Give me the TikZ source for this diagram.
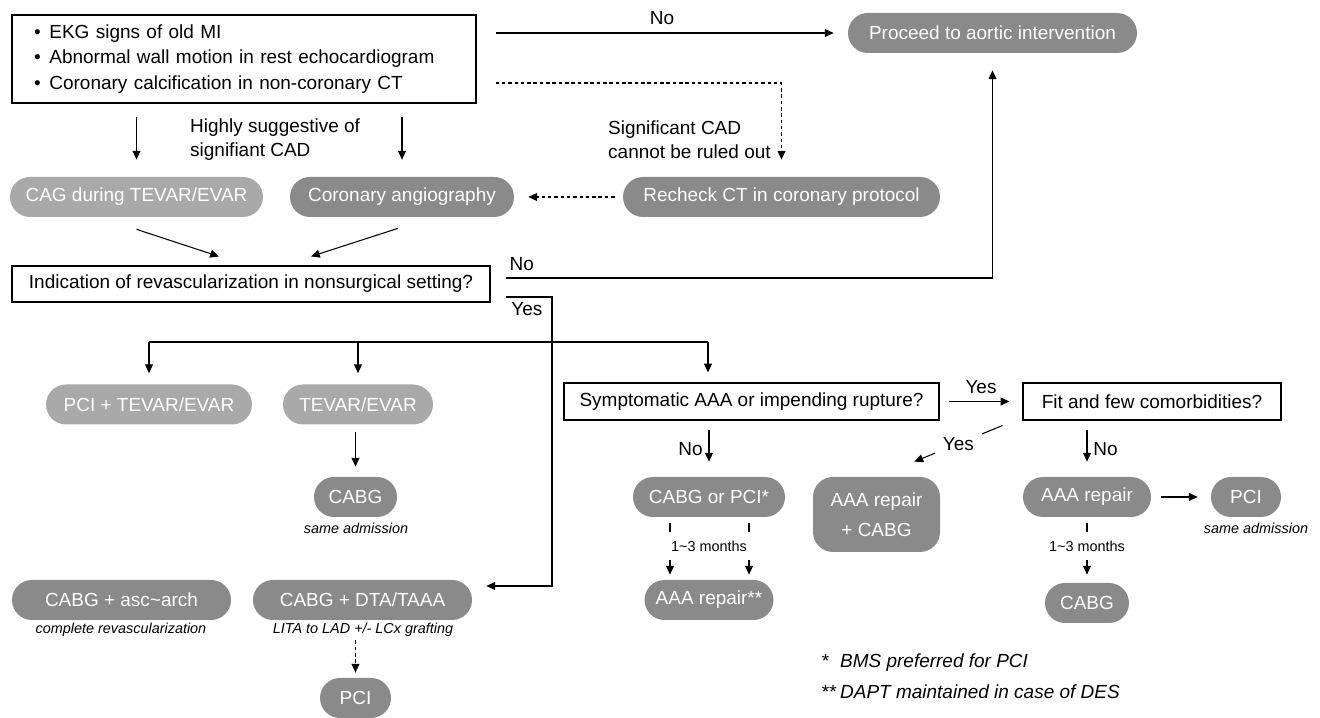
\documentclass[tikz,border=0pt]{standalone}
\usepackage{fontspec}
\setmainfont{Liberation Sans}
\usetikzlibrary{arrows.meta}
\definecolor{darkpill}{HTML}{8A8A8A}
\definecolor{lightpill}{HTML}{A9A9A9}
\tikzset{pill/.style={fill=darkpill,text=white,rounded corners=0.4cm,minimum height=0.8cm,inner sep=0pt},
  lightpill/.style={pill,fill=lightpill},
  qbox/.style={draw,line width=0.6pt,minimum height=0.74cm,inner sep=0pt},
  arr/.style={line width=0.6pt,-{Triangle[length=5pt,width=4.5pt]}},
  darr/.style={arr,dash pattern=on 2pt off 1.6pt},
  note/.style={font=\fontsize{8.2}{10}\selectfont\itshape},
  months/.style={font=\fontsize{8.2}{10}\selectfont,fill=white,inner xsep=2pt,inner ysep=0.17cm}}

\begin{document}
\begin{tikzpicture}[font=\fontsize{10.8}{13}\selectfont]
                \useasboundingbox (0,0) rectangle (26.4,-14.36);
                % first findings and the aortic branch
                \node[qbox,text width=8.4cm,inner xsep=0.44cm,minimum height=1.76cm,align=left,
                    font=\fontsize{10.8}{14.7}\selectfont] (risk) at (4.88,-1.18)
                    {\textbullet\hspace{5pt}EKG signs of old MI\\
                     \textbullet\hspace{5pt}Abnormal wall motion in rest echocardiogram\\
                     \textbullet\hspace{5pt}Coronary calcification in non-coronary CT};
                \node[pill,minimum width=5.78cm] (proceed) at (19.85,-0.66) {Proceed to aortic intervention};
                \node[lightpill,minimum width=5.06cm] (cag) at (2.73,-3.94) {CAG during TEVAR/EVAR};
                \node[pill,minimum width=4.48cm] (cor) at (8.04,-3.94) {Coronary angiography};
                \node[pill,minimum width=6.34cm] (recheck) at (15.63,-3.94) {Recheck CT in coronary protocol};
                \node[qbox,minimum width=9.56cm,minimum height=0.72cm] (ind) at (5.02,-5.68)
                    {Indication of revascularization in nonsurgical setting?};
                \node[anchor=west,align=left,font=\fontsize{10.8}{13.6}\selectfont] (sugg) at (3.68,-2.8)
                    {Highly suggestive of\\signifiant CAD};
                \node[anchor=west,align=left,font=\fontsize{10.8}{13.6}\selectfont] (notout) at (12.04,-2.8)
                    {Significant CAD\\cannot be ruled out};
                % treatment nodes
                \node[lightpill,minimum width=4.12cm] (pcitevar) at (2.98,-8.09) {PCI + TEVAR/EVAR};
                \node[lightpill,minimum width=3.0cm] (tevar) at (7.16,-8.09) {TEVAR/EVAR};
                \node[pill,minimum width=1.66cm] (cabga) at (7.11,-9.94) {CABG};
                \node[note] (cabganote) at (7.12,-10.56) {same admission};
                \node[pill,minimum width=4.38cm] (cabgasc) at (2.43,-12.0) {CABG + asc\textasciitilde arch};
                \node[note] (ascnote) at (2.42,-12.6) {complete revascularization};
                \node[pill,minimum width=4.38cm] (cabgdta) at (7.25,-12.0) {CABG + DTA/TAAA};
                \node[note] (dtanote) at (7.26,-12.6) {LITA to LAD +/- LCx grafting};
                \node[pill,minimum width=1.42cm] (pcib) at (7.11,-13.96) {PCI};
                \node[qbox,minimum width=7.5cm] (symp) at (15.03,-8.03) {Symptomatic AAA or impending rupture?};
                \node[qbox,minimum width=5.16cm] (fit) at (23.04,-8.03) {Fit and few comorbidities?};
                \node[pill,minimum width=3.04cm] (cabgpci) at (14.18,-9.94) {CABG or PCI*};
                \node[pill,minimum width=2.58cm] (aaaa) at (14.18,-12.0) {AAA repair**};
                \node[pill,minimum width=2.54cm,minimum height=1.5cm,align=center,
                    font=\fontsize{10.8}{17}\selectfont] (aaacabg) at (17.53,-10.29) {AAA repair\\+ CABG};
                \node[pill,minimum width=2.56cm] (aaar) at (21.74,-9.94) {AAA repair};
                \node[pill,minimum width=1.4cm] (pcir) at (24.92,-9.94) {PCI};
                \node[note] (pcirnote) at (25.12,-10.56) {same admission};
                \node[pill,minimum width=1.68cm] (cabgr) at (21.74,-12.06) {CABG};
                \node[anchor=west,font=\fontsize{10.8}{13}\selectfont\itshape] (fnone) at (16.3,-13.26)
                    {\makebox[0.38cm][l]{*}BMS preferred for PCI};
                \node[anchor=west,font=\fontsize{10.8}{13}\selectfont\itshape] (fntwo) at (16.3,-13.84)
                    {\makebox[0.38cm][l]{**}DAPT maintained in case of DES};
                % connectors
                \coordinate (ybend) at (11.04,-11.72);
                \coordinate (busl) at (2.98,-6.84);
                \coordinate (busr) at (14.16,-6.84);
                \draw[arr,shorten <=0.38cm,shorten >=0.28cm] (risk.east |- proceed.west) -- node[above=1pt]{No} (proceed.west);
                \draw[darr,shorten <=0.38cm,shorten >=0.34cm] ([yshift=-0.48cm]risk.east) -| (recheck.north);
                \draw[arr,shorten <=0.26cm,shorten >=0.34cm] (risk.south -| cag.north) -- (cag.north);
                \draw[arr,shorten <=0.26cm,shorten >=0.34cm] (risk.south -| cor.north) -- (cor.north);
                \draw[darr,shorten <=0.16cm,shorten >=0.28cm] (recheck.west) -- (cor.east);
                \draw[arr] ([yshift=-0.24cm]cag.south) -- ([xshift=-0.64cm,yshift=0.18cm]ind.north);
                \draw[arr] ([xshift=-0.08cm,yshift=-0.22cm]cor.south) -- ([xshift=1.2cm,yshift=0.18cm]ind.north);
                \draw[arr] ([xshift=0.3cm,yshift=0.12cm]ind.east) node[anchor=south west,inner xsep=2pt,inner ysep=4pt]{No}
                    -| ([yshift=-0.34cm]proceed.south);
                \draw[arr] ([xshift=0.3cm,yshift=-0.26cm]ind.east) node[anchor=north west,inner sep=3pt]{Yes}
                    -| (ybend) -- ([xshift=0.28cm,yshift=0.28cm]cabgdta.east);
                \draw[line width=0.6pt] (busl) -- (busr);
                \draw[arr,shorten >=0.22cm] (busl) -- (pcitevar.north);
                \draw[arr,shorten >=0.22cm] (busl -| tevar.north) -- (tevar.north);
                \draw[arr,shorten >=0.2cm] (busr) -- (busr |- symp.north);
                \draw[arr,shorten <=0.14cm,shorten >=0.2cm] (tevar.south -| cabga.north) -- (cabga.north);
                \draw[darr,shorten <=0.4cm,shorten >=0.1cm] (cabgdta.south -| pcib.north) -- (pcib.north);
                \draw[arr,shorten <=0.18cm,shorten >=0.26cm] (symp.east) -- node[above=1pt]{Yes} (fit.west);
                \draw[arr,shorten <=0.18cm,shorten >=0.3cm] (symp.south -| cabgpci.north) -- node[left]{No} (cabgpci.north);
                \draw[arr,shorten <=0.18cm,shorten >=0.3cm] (fit.south -| aaar.north) -- node[right]{No} (aaar.north);
                \draw[arr] ([xshift=-0.4cm,yshift=-0.1cm]fit.south west)
                    -- node[fill=white,inner xsep=4.5pt,inner ysep=3pt]{Yes} ([xshift=-0.52cm,yshift=0.3cm]aaacabg.north east);
                \draw[arr,shorten <=0.2cm,shorten >=0.26cm] (aaar.east) -- (pcir.west);
                \draw[arr] ([xshift=-0.78cm,yshift=-0.12cm]cabgpci.south) -- ([xshift=-0.78cm,yshift=0.1cm]aaaa.north);
                \draw[arr] ([xshift=0.8cm,yshift=-0.12cm]cabgpci.south) -- ([xshift=0.8cm,yshift=0.1cm]aaaa.north);
                \draw[arr] ([yshift=-0.12cm]aaar.south) -- ([yshift=0.16cm]cabgr.north);
                \node[months] (monl) at (14.18,-10.92) {1\textasciitilde3 months};
                \node[months] (monr) at (21.74,-10.92) {1\textasciitilde3 months};
            \end{tikzpicture}
\end{document}
